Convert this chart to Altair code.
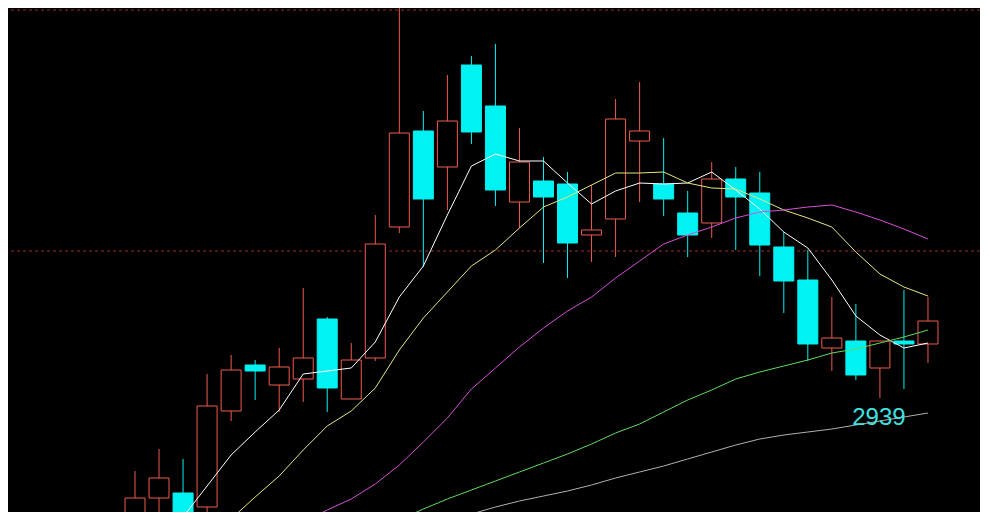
import altair as alt
import pandas as pd

# Daily candles (index 0 is the partly visible one on the far left)
opens = [2858, 2870.5, 2889, 2891.5, 2884.5, 2932.5, 2955.5, 2945.5, 2948.5, 2978.5,
         2938.5, 2959, 3024.5, 3072.5, 3054.5, 3105.5, 3085, 3037, 3047.5, 3046,
         3020.5, 3028.5, 3067.5, 3046, 3031.5, 3026.5, 3048.5, 3041.5, 3014.5, 2998,
         2964, 2967.5, 2954, 2967.5, 2966]
closes = [2873, 2889, 2899, 2879, 2935, 2953, 2952.5, 2954.5, 2959, 2944,
          2958, 3016, 3071.5, 3038.5, 3077.5, 3072, 3043, 3057, 3039.5, 3016.5,
          3023, 3078.5, 3072.5, 3038.5, 3020.5, 3048.5, 3039.5, 3015.5, 2997.5, 2966,
          2969, 2950.5, 2967.5, 2966, 2977.5]
highs = [2881.5, 2902.5, 2913.5, 2908.5, 2951, 2960.5, 2958, 2964, 2994, 2979.5,
         2966.5, 3030.5, 3143, 3082.5, 3100.5, 3110, 3116, 3074, 3059.5, 3052,
         3045.5, 3088.5, 3097, 3069, 3042.5, 3057, 3054.5, 3052, 3022, 3013,
         2989.5, 2986, 2967.5, 2993, 2989.5]
lows = [2850.5, 2865.5, 2881.5, 2873, 2882, 2927.5, 2938, 2932, 2937, 2932,
        2938.5, 2957.5, 3021.5, 3004.5, 3033, 3066, 3035, 3024, 3006.5, 2999,
        3007, 3009.5, 3037, 3030, 3009.5, 3019, 3013, 3000, 2981.5, 2957.5,
        2952.5, 2948, 2939, 2943.5, 2956.5]

N = 35
ma5 = [None, None, 2864, 2879.5, 2895, 2910.5, 2922, 2933, 2951, 2952.5,
       2954, 2967, 2989.5, 3005, 3030.5, 3055, 3061, 3057.5, 3057.5, 3046.5,
       3036, 3042.5, 3046.5, 3046, 3046.5, 3052, 3043, 3033.5, 3022, 3014,
       2998, 2980, 2970.5, 2964, 2966.5]
ma10 = [None] * 4 + [2868, 2878.5, 2889.5, 2900, 2913, 2925,
       2932.5, 2944, 2963, 2979, 2992, 3005, 3013, 3024, 3034.5, 3039.5,
       3045.5, 3051.5, 3051.5, 3052, 3046.5, 3044, 3043.5, 3038.5, 3033, 3029,
       3024.5, 3012, 3001, 2994.5, 2990]
ma20 = [None] * 8 + [2877, 2883,
       2888.5, 2896, 2905.5, 2917, 2929, 2943.5, 2954, 2964.5, 2974, 2982.5,
       2989.5, 2999, 3007.5, 3016, 3020.5, 3024.5, 3029, 3032, 3033, 3034.5,
       3035.5, 3032, 3028, 3023.5, 3018.5]
ma60 = [None] * 10 + [2868, 2873, 2878, 2883.5, 2888.5, 2893, 2897.5, 2902, 2906.5, 2911,
       2916, 2921.5, 2926, 2932, 2938, 2943, 2948.5, 2952, 2955, 2958,
       2961.5, 2963.5, 2966.5, 2969.5, 2973]
ma120 = [None] * 13 + [2873, 2877, 2881, 2884.5, 2887.5, 2890, 2892.5,
       2895.5, 2899, 2902, 2905, 2908.5, 2912, 2915.5, 2918.5, 2920.5, 2922,
       2923.5, 2925.5, 2927.5, 2929.5, 2931.5]

ma_names = ["MA5", "MA10", "MA20", "MA60", "MA120"]
ma_colors = ["#FFFFFF", "#E6E680", "#D850D8", "#60DC60", "#B0B0B0"]
grid_levels = [3012.5, 3133]
low_label_index = 32
low_label_text = ["2939"]

idx = list(range(N))
candles = pd.DataFrame({
    "i": idx, "open": opens, "close": closes, "high": highs, "low": lows,
})
candles["dir"] = ["up" if c >= o else "down" for o, c in zip(opens, closes)]

rows = []
for name, series in zip(ma_names, [ma5, ma10, ma20, ma60, ma120]):
    for i, v in enumerate(series):
        if v is not None:
            rows.append({"i": i, "ma": name, "v": v})
mas = pd.DataFrame(rows)

xs = alt.Scale(domain=[-4.285, 36.165], nice=False, zero=False, padding=0)
ys = alt.Scale(domain=[2882, 3134], nice=False, zero=False, padding=0)

fill_scale = alt.Scale(domain=["up", "down"], range=["#000000", "#00F2F2"])
stroke_scale = alt.Scale(domain=["up", "down"], range=["#F05A4E", "#00F2F2"])

grid = alt.Chart(pd.DataFrame({"y": grid_levels})).mark_rule(
    color="#A02A2A", strokeDash=[3, 3], strokeWidth=1
).encode(y=alt.Y("y:Q", scale=ys, axis=None))

wicks = alt.Chart(candles).mark_rule(strokeWidth=1, clip=True).encode(
    x=alt.X("i:Q", scale=xs, axis=None),
    y=alt.Y("high:Q", scale=ys, axis=None),
    y2="low:Q",
    stroke=alt.Stroke("dir:N", scale=stroke_scale, legend=None),
)

bodies = alt.Chart(candles).mark_bar(width=20, strokeWidth=1, clip=True).encode(
    x=alt.X("i:Q", scale=xs, axis=None),
    y=alt.Y("open:Q", scale=ys, axis=None),
    y2="close:Q",
    fill=alt.Fill("dir:N", scale=fill_scale, legend=None),
    stroke=alt.Stroke("dir:N", scale=stroke_scale, legend=None),
)

lines = alt.Chart(mas).mark_line(strokeWidth=1, clip=True).encode(
    x=alt.X("i:Q", scale=xs, axis=None),
    y=alt.Y("v:Q", scale=ys, axis=None),
    color=alt.Color("ma:N", scale=alt.Scale(domain=ma_names, range=ma_colors), legend=None),
    detail="ma:N",
)

label_df = pd.DataFrame({
    "i": [low_label_index],
    "low": [lows[low_label_index]],
    "t": low_label_text,
})
label = alt.Chart(label_df).mark_text(
    font="Liberation Sans", fontSize=24, color="#3FE0E0",
    align="center", baseline="top", dy=8, dx=-1
).encode(
    x=alt.X("i:Q", scale=xs, axis=None),
    y=alt.Y("low:Q", scale=ys, axis=None),
    text="t:N",
)

chart = alt.layer(grid, wicks, bodies, lines, label).resolve_scale(
    color="independent", stroke="independent", fill="independent"
).properties(
    width=972, height=504, background="#000000", padding=0,
    autosize=alt.AutoSizeParams(type="none"),
).configure_view(stroke=None, fill="#000000")

chart.save("out.html", embed_options={"renderer": "svg", "actions": False})
